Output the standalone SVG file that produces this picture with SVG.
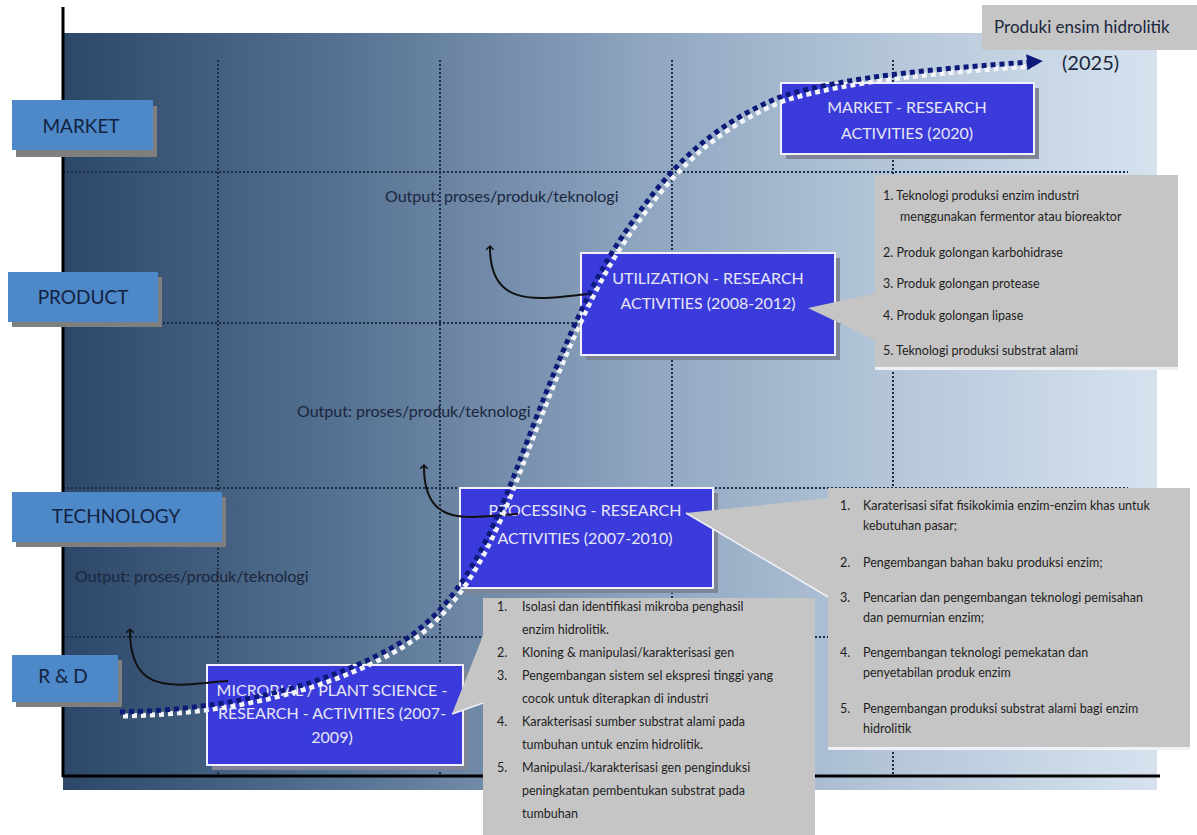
<svg xmlns="http://www.w3.org/2000/svg" width="1197" height="835" viewBox="0 0 1197 835">
<defs>
<linearGradient id="panelGrad" x1="0" y1="0" x2="1" y2="0">
<stop offset="0" stop-color="#2c4768"/>
<stop offset="0.26" stop-color="#577393"/>
<stop offset="0.53" stop-color="#8fa5c0"/>
<stop offset="0.77" stop-color="#b7c8da"/>
<stop offset="1" stop-color="#d6e2ee"/>
</linearGradient>
<marker id="navyHead" viewBox="0 0 10 10" refX="2" refY="5" markerWidth="16" markerHeight="16" orient="auto" markerUnits="userSpaceOnUse">
<path d="M0,0 L10,5 L0,10 z" fill="#0d1a7a"/>
</marker>
<marker id="openHead" viewBox="0 0 12 12" refX="6" refY="6" markerWidth="9" markerHeight="9" orient="auto" markerUnits="userSpaceOnUse">
<path d="M1,1 L6,6 L1,11" fill="none" stroke="#111" stroke-width="2"/>
</marker>
</defs>
<style>
.grid{stroke:#1c2d47;stroke-width:2;stroke-dasharray:2 2;fill:none}
.axis{stroke:#000;stroke-width:3}
.lbl{fill:#4d88c8}
.lblsh{fill:#7f7f7f}
.lbltxt{font-family:Lato,"Liberation Sans",sans-serif;font-size:19px;fill:#14223f;text-anchor:middle}
.box{fill:#3b3bdc;stroke:#f0f0ff;stroke-width:2}
.boxsh{fill:#7e8696}
.boxtxt{font-family:Lato,"Liberation Sans",sans-serif;font-size:16px;fill:#e6e6f6;text-anchor:middle}
.call{fill:#c5c5c5}
.calltxt{font-family:Lato,"Liberation Sans",sans-serif;font-size:12.5px;fill:#1e1e1e}
.out{font-family:Lato,"Liberation Sans",sans-serif;font-size:16px;fill:#1a263c}
.arrow{fill:none;stroke:#111;stroke-width:2}
.dotsN{fill:none;stroke:#0d1a7a;stroke-width:5;stroke-dasharray:5 4}
.dotsW{fill:none;stroke:#f2f4f8;stroke-width:5;stroke-dasharray:5 4}
</style>

<g id="background">
<rect x="63" y="33" width="1094" height="757" fill="url(#panelGrad)"/>
<line class="grid" x1="218" y1="60" x2="218" y2="776"/>
<line class="grid" x1="440" y1="60" x2="440" y2="776"/>
<line class="grid" x1="672" y1="60" x2="672" y2="776"/>
<line class="grid" x1="893" y1="60" x2="893" y2="776"/>
<line class="grid" x1="63" y1="172" x2="1128" y2="172"/>
<line class="grid" x1="63" y1="323" x2="1128" y2="323"/>
<line class="grid" x1="63" y1="488" x2="1128" y2="488"/>
<line class="grid" x1="63" y1="637" x2="1128" y2="637"/>
<line class="axis" x1="63" y1="7" x2="63" y2="777"/>
<line class="axis" x1="62" y1="776" x2="1160" y2="776"/>
</g>

<g id="label-market">
<rect class="lblsh" x="16" y="106" width="141" height="51"/>
<rect class="lbl" x="12" y="100" width="141" height="50"/>
<text class="lbltxt" x="81" y="133">MARKET</text>
</g>
<g id="label-product">
<rect class="lblsh" x="12" y="277" width="150" height="50"/>
<rect class="lbl" x="8" y="272" width="150" height="50"/>
<text class="lbltxt" x="83" y="304">PRODUCT</text>
</g>
<g id="label-technology">
<rect class="lblsh" x="16" y="497" width="210" height="50"/>
<rect class="lbl" x="12" y="492" width="210" height="50"/>
<text class="lbltxt" x="116" y="523">TECHNOLOGY</text>
</g>
<g id="label-rd">
<rect class="lblsh" x="16" y="660" width="106" height="47"/>
<rect class="lbl" x="12" y="655" width="106" height="47"/>
<text class="lbltxt" x="63" y="683">R &amp; D</text>
</g>

<g id="box-market">
<rect class="boxsh" x="786" y="88" width="253" height="71"/>
<rect class="box" x="781" y="83" width="253" height="71"/>
<text class="boxtxt" x="907" y="113">MARKET - RESEARCH</text>
<text class="boxtxt" x="907" y="139">ACTIVITIES (2020)</text>
</g>
<g id="box-utilization">
<rect class="boxsh" x="586" y="258" width="254" height="102"/>
<rect class="box" x="581" y="253" width="254" height="102"/>
<text class="boxtxt" x="708" y="284">UTILIZATION - RESEARCH</text>
<text class="boxtxt" x="708" y="309">ACTIVITIES (2008-2012)</text>
</g>
<g id="box-processing">
<rect class="boxsh" x="465" y="493" width="253" height="100"/>
<rect class="box" x="460" y="488" width="253" height="100"/>
<text class="boxtxt" x="585" y="516">PROCESSING - RESEARCH</text>
<text class="boxtxt" x="585" y="544">ACTIVITIES (2007-2010)</text>
</g>
<g id="box-microbial">
<rect class="boxsh" x="212" y="670" width="256" height="100"/>
<rect class="box" x="207" y="665" width="256" height="100"/>
<text class="boxtxt" x="332" y="696">MICROBIAL / PLANT SCIENCE -</text>
<text class="boxtxt" x="332" y="719">RESEARCH - ACTIVITIES (2007-</text>
<text class="boxtxt" x="332" y="743">2009)</text>
</g>

<g id="callout-top">
<rect class="call" x="982" y="5" width="215" height="45"/>
<text class="out" x="994" y="33" style="font-size:17px">Produki ensim hidrolitik</text>
<text class="out" x="1062" y="70" style="font-size:20px">(2025)</text>
</g>

<g id="callout-product">
<rect x="875" y="366" width="303" height="4" fill="#eef1f5"/>
<polygon class="call" points="808,308 877,293 877,341"/>
<rect class="call" x="875" y="175" width="303" height="192"/>
<text class="calltxt" x="883" y="200">1. Teknologi produksi enzim industri</text>
<text class="calltxt" x="900" y="221">menggunakan fermentor atau bioreaktor</text>
<text class="calltxt" x="883" y="257">2. Produk golongan karbohidrase</text>
<text class="calltxt" x="883" y="288">3. Produk golongan protease</text>
<text class="calltxt" x="883" y="320">4. Produk golongan lipase</text>
<text class="calltxt" x="883" y="355">5. Teknologi produksi substrat alami</text>
</g>

<g id="callout-technology">
<rect x="828" y="746" width="362" height="4" fill="#eef1f5"/>
<polygon class="call" points="686,513 830,498 830,598"/>
<line x1="686" y1="513" x2="830" y2="598" stroke="#eef1f5" stroke-width="1.5"/>
<rect class="call" x="828" y="488" width="362" height="259"/>
<text class="calltxt" x="840" y="510">1.</text><text class="calltxt" x="863" y="510">Karaterisasi sifat fisikokimia enzim-enzim khas untuk</text>
<text class="calltxt" x="863" y="530">kebutuhan pasar;</text>
<text class="calltxt" x="840" y="567">2.</text><text class="calltxt" x="863" y="567">Pengembangan bahan baku produksi enzim;</text>
<text class="calltxt" x="840" y="602">3.</text><text class="calltxt" x="863" y="602">Pencarian dan pengembangan teknologi pemisahan</text>
<text class="calltxt" x="863" y="622">dan pemurnian enzim;</text>
<text class="calltxt" x="840" y="657">4.</text><text class="calltxt" x="863" y="657">Pengembangan teknologi pemekatan dan</text>
<text class="calltxt" x="863" y="677">penyetabilan produk enzim</text>
<text class="calltxt" x="840" y="713">5.</text><text class="calltxt" x="863" y="713">Pengembangan produksi substrat alami bagi enzim</text>
<text class="calltxt" x="863" y="733">hidrolitik</text>
</g>

<g id="callout-rd">
<polygon class="call" points="452,714 486,628 486,702"/>
<line x1="452" y1="714" x2="486" y2="702" stroke="#eef1f5" stroke-width="1.5"/>
<rect class="call" x="483" y="598" width="332" height="237"/>
<text class="calltxt" x="497" y="611">1.</text><text class="calltxt" x="522" y="611">Isolasi dan identifikasi mikroba penghasil</text>
<text class="calltxt" x="522" y="634">enzim hidrolitik.</text>
<text class="calltxt" x="497" y="657">2.</text><text class="calltxt" x="522" y="657">Kloning &amp; manipulasi/karakterisasi gen</text>
<text class="calltxt" x="497" y="680">3.</text><text class="calltxt" x="522" y="680">Pengembangan sistem sel ekspresi tinggi yang</text>
<text class="calltxt" x="522" y="703">cocok untuk diterapkan di industri</text>
<text class="calltxt" x="497" y="726">4.</text><text class="calltxt" x="522" y="726">Karakterisasi sumber substrat alami pada</text>
<text class="calltxt" x="522" y="749">tumbuhan untuk enzim hidrolitik.</text>
<text class="calltxt" x="497" y="772">5.</text><text class="calltxt" x="522" y="772">Manipulasi./karakterisasi gen penginduksi</text>
<text class="calltxt" x="522" y="795">peningkatan pembentukan substrat pada</text>
<text class="calltxt" x="522" y="818">tumbuhan</text>
</g>

<g id="output-labels">
<text class="out" x="385" y="202">Output: proses/produk/teknologi</text>
<text class="out" x="297" y="417">Output: proses/produk/teknologi</text>
<text class="out" x="75" y="582">Output: proses/produk/teknologi</text>
</g>

<g id="connectors">
<path class="arrow" d="M588,294 C540,299 489,310 490,246" marker-end="url(#openHead)"/>
<path class="arrow" d="M518,514 C470,517 423,530 424,465" marker-end="url(#openHead)"/>
<path class="arrow" d="M228,681 C180,684 129,700 130,629" marker-end="url(#openHead)"/>
<path class="dotsW" transform="translate(3,4)" d="M120,712 C220,710 320,690 400,643 C460,605 490,540 520,460 C545,395 580,300 620,240 C660,180 700,130 780,97 C850,75 950,68 1030,62"/>
<path class="dotsN" d="M120,712 C220,710 320,690 400,643 C460,605 490,540 520,460 C545,395 580,300 620,240 C660,180 700,130 780,97 C850,75 950,68 1030,62" marker-end="url(#navyHead)"/>
</g>
</svg>
